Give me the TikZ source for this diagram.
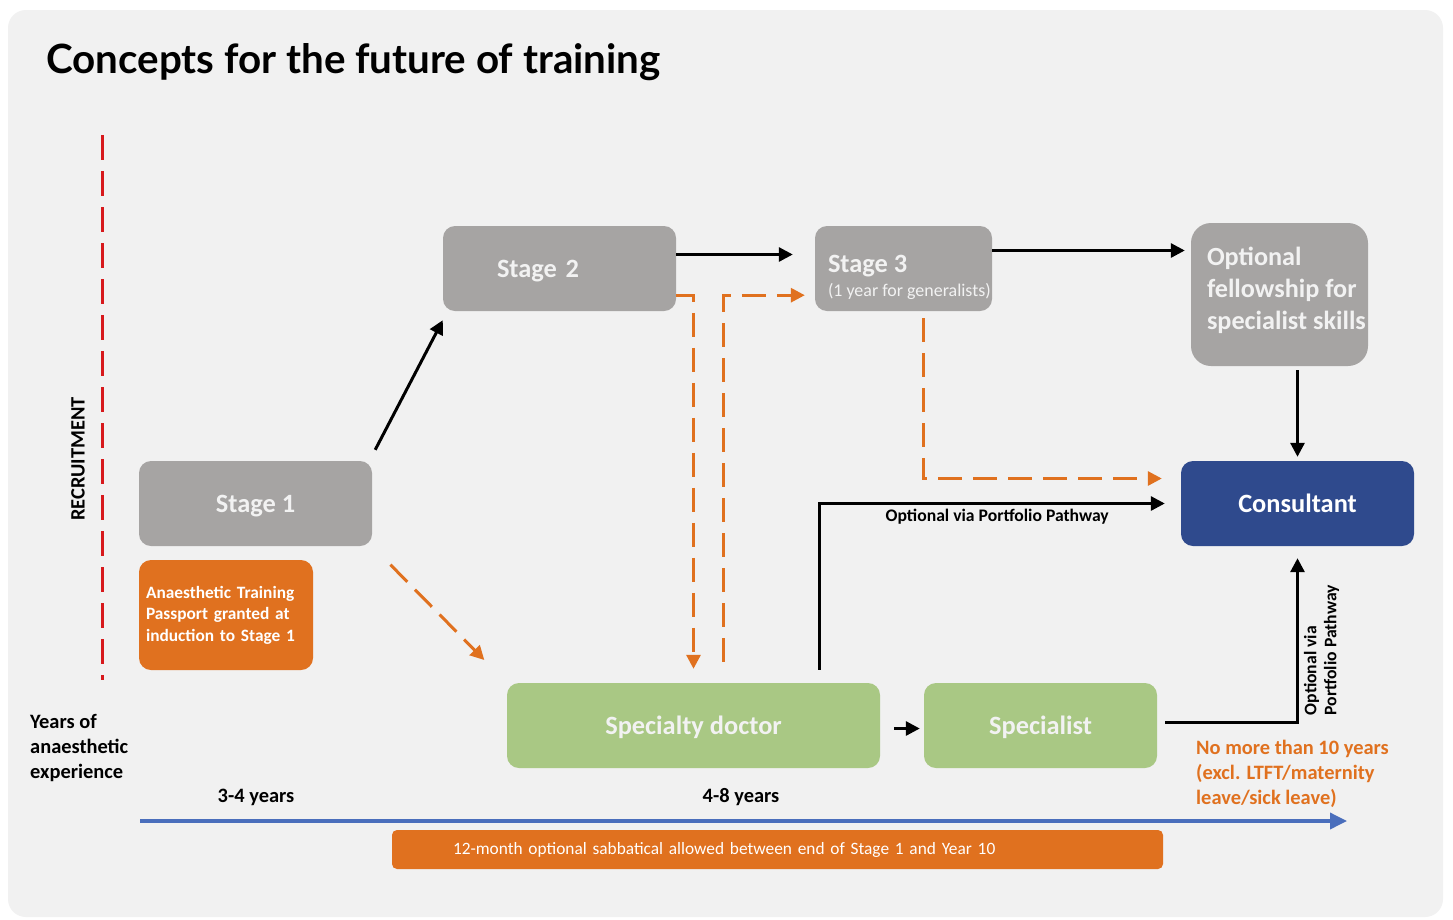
\documentclass[tikz,border=0pt]{standalone}
\usepackage{fontspec}
\setmainfont{Carlito}
\newfontfamily\titlefont{Lato}
\usetikzlibrary{arrows.meta,positioning,calc}
\definecolor{panel}{HTML}{F1F1F1}
\definecolor{stagegray}{HTML}{A6A4A3}
\definecolor{boxtext}{HTML}{F2F2F2}
\definecolor{trainorange}{HTML}{E0711F}
\definecolor{docgreen}{HTML}{A9C884}
\definecolor{consblue}{HTML}{2F4A8D}
\definecolor{axisblue}{HTML}{4A6EBC}
\definecolor{recred}{HTML}{D7191C}
\newcommand\boxfont{\bfseries\fontsize{26.5}{30}\selectfont}
\newcommand\notefont{\bfseries\fontsize{20.5}{25}\selectfont}
\tikzset{
  box/.style={rounded corners=12bp, text=boxtext, font=\boxfont, inner sep=0pt,
    minimum height=85bp},
  stagebox/.style={box, fill=stagegray, text depth=0pt},
  greenbox/.style={box, fill=docgreen, text depth=0pt},
  flow/.style={draw=black, line width=3bp, -{Triangle[length=14bp,width=14bp]}},
  optflow/.style={draw=trainorange, line width=3bp, dash pattern=on 24bp off 11bp,
    -{Triangle[length=14bp,width=14bp]}},
  pathlab/.style={text=black, font=\bfseries\fontsize{17.7}{20}\selectfont},
  note/.style={text=black, font=\notefont, inner sep=0pt}
}

\begin{document}
\begin{tikzpicture}[x=1bp, y=-1bp]
  \useasboundingbox (0,0) rectangle (1453,919);
  \fill[white] (0,0) rectangle (1453,919);
  \fill[panel, rounded corners=18bp] (8,10) rectangle (1443,917);

  \node[anchor=base west, inner sep=0pt, font=\titlefont\bfseries\fontsize{40.5}{44}\selectfont]
    (title) at (46,73) {Concepts for the future of training};

  % recruitment line
  \coordinate (r0) at (102,135);
  \coordinate (r1) at (102,680);
  \draw[recred, line width=3bp, dash pattern=on 25bp off 11bp] (r0) -- (r1);
  \node[note, rotate=90, font=\bfseries\fontsize{20.5}{22}\selectfont] (recruit) at (78,459) {RECRUITMENT};

  % stages
  \node[stagebox, minimum width=233bp] (s1) at (255.5,503.5) {Stage 1};
  \node[stagebox, minimum width=233bp, text width=125bp, inner xsep=54bp, align=left]
    (s2) at (559.5,268.5) {Stage 2};
  \node[stagebox, minimum width=177bp] (s3) at (903.5,268.5) {};
  \node[text=boxtext, anchor=west, inner sep=0pt, align=left, font=\boxfont]
    (s3txt) at ($(s3.west)+(13,9)$) {Stage 3\\[-6bp]{\mdseries\fontsize{18}{20}\selectfont (1 year for generalists)}};
  \node[stagebox, rounded corners=20bp, minimum width=177bp, minimum height=143bp]
    (fel) at (1279.5,294.5) {};
  \node[text=boxtext, anchor=west, inner sep=0pt, align=left, font=\bfseries\fontsize{26.3}{32}\selectfont]
    (feltxt) at ($(fel.west)+(16,-4)$) {Optional\\fellowship for\\specialist skills};
  \node[box, fill=consblue, text=white, text depth=0pt, minimum width=233bp] (cons) at (1297.5,503.5) {Consultant};

  \node[box, fill=trainorange, text=white, minimum width=174bp, minimum height=110bp,
    text width=160bp, inner xsep=7bp, align=left, font=\bfseries\fontsize{17.4}{21.5}\selectfont]
    (pass) at (226,615) {Anaesthetic Training\\Passport granted at\\induction to Stage 1};

  \node[greenbox, minimum width=373bp] (sd) at (693.5,725.5) {Specialty doctor};
  \node[greenbox, minimum width=233bp] (sp) at (1040.5,725.5) {Specialist};

  % main route
  \draw[flow] ($(s1.north east)+(3,-11)$) -- ($(s2.south west)+(0,9)$);
  \draw[flow] ($(s2.east)+(0,-14)$) -- ($(s3.west)+(-22,-14)$);
  \draw[flow, shorten >=6bp] ($(s3.east)+(0,-18)$) -- ($(s3.east -| fel.west)+(0,-18)$);
  \draw[flow, shorten <=4bp, shorten >=4bp] (cons.north |- fel.south) -- (cons.north);
  \draw[flow, shorten <=14bp, shorten >=4bp] ($(sd.east)+(0,3)$) -- ($(sp.west)+(0,3)$);

  % optional routes
  \draw[optflow, shorten <=26bp, shorten >=32bp] (s1.south east) -- (sd.north west);
  \draw[optflow, shorten >=14bp] ($(s2.south east)+(0,-16)$) -| (sd.north);
  \draw[optflow, shorten >=10bp] ($(sd.north)+(30,-21)$) |- ($(s3.south west)+(0,-16)$);
  \draw[optflow, shorten >=19bp] ($(s3.south)+(20,7)$) |- ($(cons.west)+(0,-25)$);

  % portfolio pathway
  \draw[flow, shorten >=16bp] ($(sd.north)+(126,-13)$) |- (cons.west)
    node[pathlab, pos=0.75, below=1bp, xshift=-3bp] {Optional via Portfolio Pathway};
  \draw[flow, shorten >=12bp] ($(sp.east)+(8,-3)$) -| (cons.south)
    node[pathlab, pos=0.705, anchor=north, rotate=90, align=left, inner sep=5bp]
      {Optional via\\Portfolio Pathway};

  % time axis
  \node[note, anchor=north west, align=left] (years) at (30,714) {Years of\\anaesthetic\\experience};
  \node[note] (y34) at (256,797) {3-4 years};
  \node[note] (y48) at (741,797) {4-8 years};
  \node[note, text=trainorange, anchor=north west, align=left] (limit) at (1196,740)
    {No more than 10 years\\(excl. LTFT/maternity\\leave/sick leave)};
  \coordinate (t0) at (140,821);
  \coordinate (t1) at (1347,821);
  \draw[axisblue, line width=3.5bp, -{Triangle[length=17bp,width=16bp]}] (t0) -- (t1);

  \node[box, fill=trainorange, text=white, rounded corners=5bp, minimum width=771bp,
    minimum height=39bp, text width=649bp, inner xsep=61bp, align=left,
    font=\fontsize{17.4}{20}\selectfont] (sab) at (777.5,849.5)
    {12-month optional sabbatical allowed between end of Stage 1 and Year 10};
\end{tikzpicture}
\end{document}
